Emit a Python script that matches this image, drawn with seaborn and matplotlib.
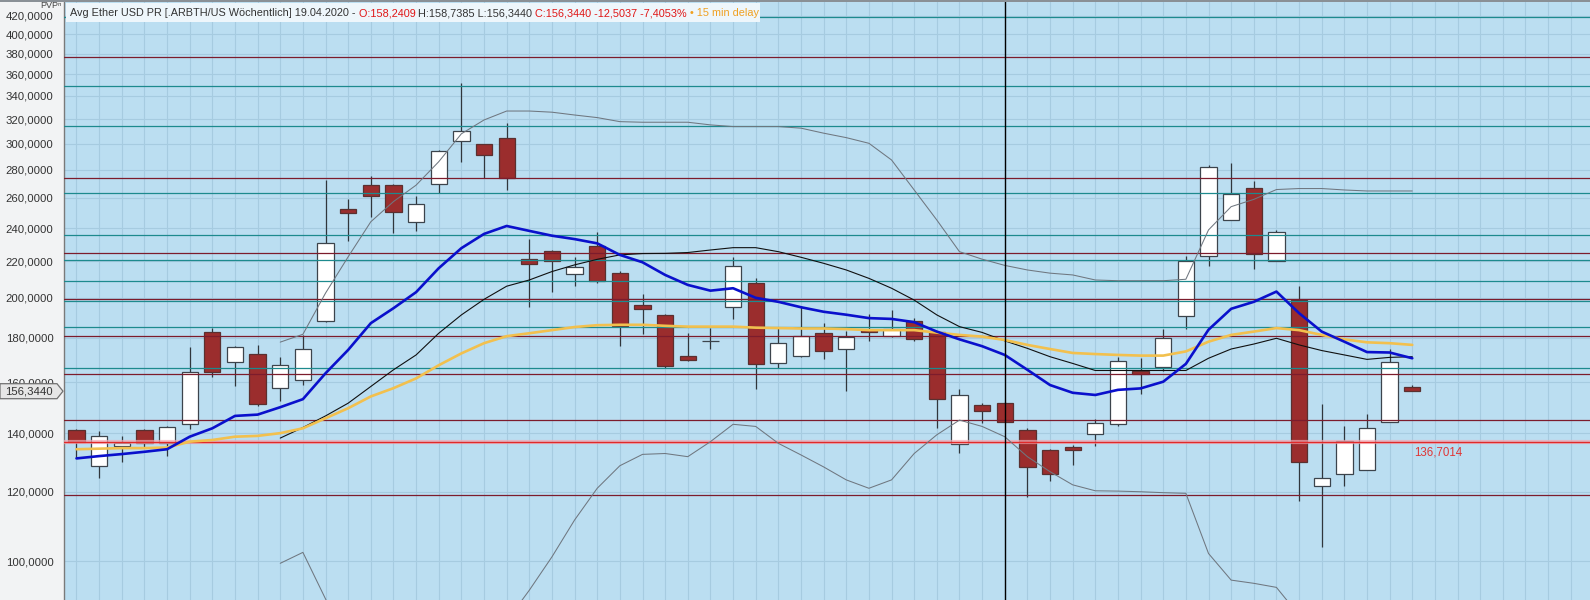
import numpy as np
import pandas as pd
import matplotlib
matplotlib.use("Agg")
import matplotlib.pyplot as plt
import seaborn as sns
from matplotlib.ticker import FixedLocator, FuncFormatter, NullFormatter
from matplotlib.patches import Rectangle, Polygon

# ---------------- data (weekly candles, Avg Ether USD) ----------------
opens = [141.2, 128.4, 135.5, 141.2, 136.6, 143.3, 182.6, 168.7, 172.6, 157.6,
         161.0, 188.0, 252.4, 269.0, 269.0, 244.2, 269.5, 302.0, 299.5, 304.1,
         221.6, 226.2, 212.8, 229.1, 213.4, 196.0, 191.1, 171.7, 178.2, 195.0,
         207.8, 168.3, 171.7, 182.4, 174.5, 183.6, 180.9, 188.2, 182.6, 136.0,
         150.6, 151.5, 141.2, 134.0, 134.9, 139.8, 143.3, 165.0, 166.8, 190.8,
         223.2, 245.1, 266.8, 220.2, 198.7, 121.8, 125.8, 127.1, 144.1, 158.2409]
highs = [141.5, 140.8, 139.0, 141.5, 142.8, 175.5, 184.6, 176.0, 176.5, 171.2,
         181.3, 272.5, 259.5, 275.3, 269.5, 261.3, 295.0, 352.1, 299.5, 317.0,
         233.1, 227.0, 222.3, 237.4, 214.3, 201.9, 191.5, 182.4, 184.6, 222.3,
         210.8, 184.6, 195.6, 187.1, 183.2, 191.4, 193.7, 189.4, 183.0, 157.3,
         151.6, 152.0, 141.8, 134.3, 135.7, 145.2, 170.9, 170.5, 184.1, 223.2,
         283.7, 284.7, 272.0, 239.2, 206.1, 151.3, 142.5, 147.1, 174.6, 158.7385]
lows = [131.0, 124.5, 129.7, 134.5, 131.8, 141.5, 162.2, 158.7, 150.5, 152.5,
        158.9, 187.5, 232.1, 247.5, 236.9, 238.4, 263.4, 286.0, 273.7, 265.5,
        195.3, 203.2, 206.4, 207.8, 176.3, 181.6, 166.4, 169.4, 174.9, 189.0,
        157.1, 166.4, 170.9, 170.0, 156.3, 178.6, 180.5, 178.5, 141.9, 133.0,
        143.9, 144.0, 118.4, 123.5, 128.8, 135.5, 142.5, 155.4, 165.0, 184.2,
        217.2, 245.1, 215.4, 220.0, 117.2, 103.7, 121.9, 127.0, 144.0, 156.3440]
closes = [136.9, 139.1, 136.5, 136.6, 142.2, 164.6, 164.6, 175.5, 151.2, 167.4,
          174.6, 230.9, 250.1, 261.5, 250.8, 255.7, 294.3, 309.9, 291.4, 273.7,
          218.3, 220.0, 216.5, 209.0, 185.7, 194.0, 167.1, 169.6, 178.4, 217.5,
          167.9, 177.7, 180.9, 174.0, 180.2, 182.7, 184.3, 179.2, 153.3, 154.7,
          148.5, 144.3, 128.2, 125.6, 133.8, 143.7, 169.1, 163.4, 179.7, 220.2,
          282.2, 262.7, 224.1, 237.6, 129.7, 124.3, 137.0, 141.8, 168.7, 156.3440]

# moving averages / bands
ma_blue = [131.0, 131.8, 132.5, 133.3, 134.2, 138.7, 141.8, 146.5, 147.0, 149.9,
           153.1, 163.9, 174.3, 187.0, 194.5, 202.9, 216.1, 227.8, 236.5, 241.5,
           238.4, 235.4, 233.3, 230.7, 223.8, 219.5, 212.3, 206.8, 203.7, 205.0,
           199.9, 197.8, 195.0, 192.7, 191.2, 189.5, 189.1, 187.5, 182.9, 179.2,
           176.0, 172.0, 165.4, 158.9, 155.7, 154.8, 156.9, 157.5, 160.3, 168.0,
           183.8, 194.2, 197.8, 203.2, 192.0, 182.9, 178.1, 173.3, 173.1, 170.5]
ma_gold = [134.2, 134.4, 134.6, 134.6, 134.8, 136.9, 137.5, 138.7, 139.0, 140.0,
           141.8, 145.6, 149.5, 154.2, 157.6, 161.7, 167.4, 172.7, 177.4, 180.7,
           182.1, 183.6, 185.1, 186.0, 186.2, 186.2, 185.7, 185.3, 185.3, 185.3,
           184.8, 184.6, 184.4, 184.4, 184.1, 183.6, 183.6, 183.6, 182.4, 181.3,
           180.5, 178.9, 176.6, 174.7, 172.9, 172.4, 172.0, 171.7, 171.7, 173.6,
           178.1, 181.3, 182.9, 184.6, 183.6, 181.3, 179.2, 177.8, 177.4, 176.6]
ma_black = [np.nan] * 9 + [
    138.2, 142.1, 146.5, 151.5, 158.3, 165.4, 172.0, 182.1, 191.1, 199.1,
    206.1, 209.5, 214.2, 218.0, 221.2, 223.8, 224.6, 224.7, 225.2, 226.7,
    228.1, 228.1, 225.7, 222.4, 218.9, 215.1, 210.4, 205.0, 198.7, 191.1,
    185.3, 182.5, 178.5, 175.0, 171.2, 168.2, 165.1, 165.1, 165.1, 165.1,
    165.1, 170.5, 174.7, 177.0, 179.7, 176.6, 174.0, 172.0, 170.0, 170.9, 171.2]
bb_upper = [np.nan] * 9 + [
    177.9, 181.6, 202.4, 222.7, 244.2, 257.5, 268.9, 286.0, 307.8, 319.2,
    326.8, 326.8, 325.8, 323.4, 321.2, 317.8, 317.3, 317.3, 317.3, 315.1,
    313.7, 313.7, 313.7, 312.4, 308.3, 304.7, 300.2, 287.3, 265.5, 245.3,
    225.7, 221.3, 217.7, 215.1, 213.3, 212.3, 209.5, 209.1, 209.1, 209.1,
    209.9, 239.0, 254.1, 259.0, 265.8, 266.5, 266.5, 265.5, 264.8, 264.8, 264.8]
bb_lower = [np.nan] * 9 + [
    99.4, 102.3, 90.5, 80.3, 72.4, 73.3, 75.1, 78.2, 74.4, 79.0,
    85.4, 92.6, 101.1, 111.4, 121.1, 128.5, 132.4, 132.7, 131.6, 136.9,
    143.3, 142.5, 136.3, 132.2, 128.1, 123.8, 121.1, 123.8, 132.7, 139.4,
    144.9, 142.5, 138.7, 131.6, 126.5, 122.2, 120.3, 120.2, 120.0, 119.7,
    119.5, 102.0, 95.1, 94.3, 93.3, 86.7, 81.5, 78.5, 75.2, 77.0, 77.6]

# horizontal levels
levels_teal = [418.5, 349.5, 313.9, 263.2, 235.7, 220.7, 208.8, 198.2, 185.0, 166.0]
levels_red = [376.7, 273.8, 224.7, 199.4, 180.6, 163.4, 144.8, 119.0]
level_marked = 136.7014
last_price = 156.3440
major_ticks = list(range(100, 421, 20))
minor_ticks = [v for v in range(90, 436, 5) if v % 20 != 0]
crosshair_week = 41

header_parts = [
    ("Avg Ether USD PR [.ARBTH/US Wöchentlich] 19.04.2020 -", "#333333"),
    (" O:158,2409", "#e01515"),
    (" H:158,7385 L:156,3440", "#333333"),
    (" C:156,3440 -12,5037 -7,4053%", "#e01515"),
    (" \u2022 15 min delay", "#f0a020"),
]

# ---------------- styling ----------------
sns.set_style("white")
plt.rcParams['font.family'] = ['Liberation Sans', 'DejaVu Sans']

W, H = 1590, 600
fig = plt.figure(figsize=(W / 100, H / 100), dpi=100)
fig.patch.set_facecolor("#f2f3f4")
ax = fig.add_axes([64 / W, 0, 1 - 64 / W, 1])
ax.set_facecolor("#bbdef1")

n = len(opens)
weeks = np.arange(n)
df = pd.DataFrame({
    "week": weeks, "open": opens, "high": highs, "low": lows, "close": closes,
    "ma_blue": ma_blue, "ma_gold": ma_gold, "ma_black": ma_black,
    "bb_upper": bb_upper, "bb_lower": bb_lower,
})

ax.set_yscale("log")
ax.set_ylim(90.25, 437.7)
ax.set_xlim(-0.552, 66.85)

# grid
for gx in range(0, 67):
    ax.axvline(gx, color="#a6cbe0", lw=0.8, zorder=0.5)
for gy in major_ticks:
    ax.axhline(gy, color="#a6cbe0", lw=0.8, zorder=0.5)

# candles
up = df["close"] >= df["open"]
body_lo = np.minimum(df["open"], df["close"])
body_h = np.maximum(np.abs(df["close"] - df["open"]), 0.25)
ax.vlines(df["week"], df["low"], df["high"], color="#30363c", lw=0.9, zorder=1.5)
ax.bar(df["week"], body_h, bottom=body_lo, width=0.72,
       color=np.where(up, "#ffffff", "#9b2d2d"),
       edgecolor=np.where(up, "#3c444c", "#5a3030"), linewidth=0.9, zorder=2)

# horizontal levels (drawn above candles)
for lv in levels_teal:
    ax.axhline(lv, color="#1d8a8e", lw=0.9, zorder=3)
for lv in levels_red:
    ax.axhline(lv, color="#7c1c2c", lw=0.9, zorder=3)
ax.axhline(level_marked, color="#f2a9b4", lw=3.0, alpha=0.7, zorder=3)
ax.axhline(level_marked, color="#e02a2a", lw=1.0, zorder=3.1)

# bands and moving averages
sns.lineplot(data=df, x="week", y="bb_upper", color="#6f7780", lw=0.75, ax=ax, zorder=4)
sns.lineplot(data=df, x="week", y="bb_lower", color="#6f7780", lw=0.75, ax=ax, zorder=4)
sns.lineplot(data=df, x="week", y="ma_black", color="#101010", lw=0.8, ax=ax, zorder=4.5)
sns.lineplot(data=df, x="week", y="ma_gold", color="#f2c04e", lw=1.9, ax=ax, zorder=5)
sns.lineplot(data=df, x="week", y="ma_blue", color="#0a10cc", lw=1.9, ax=ax, zorder=5.5)

ax.axvline(crosshair_week, color="black", lw=1.0, zorder=6)

# axes
ax.set_yscale("log")
ax.set_ylim(90.25, 437.7)
ax.set_xlim(-0.552, 66.85)
ax.set_xlabel("")
ax.set_ylabel("")
ax.yaxis.set_major_locator(FixedLocator(major_ticks))
ax.yaxis.set_minor_locator(FixedLocator(minor_ticks))
ax.yaxis.set_major_formatter(FuncFormatter(lambda v, p: f"{v:.4f}".replace(".", ",")))
ax.yaxis.set_minor_formatter(NullFormatter())
ax.tick_params(axis="y", which="major", length=5, width=0.8, color="#505050",
               labelsize=8.2, labelcolor="#333333", pad=2.5)
ax.tick_params(axis="y", which="minor", length=2.5, width=0.8, color="#505050")
ax.set_xticks([])
for s in ["top", "right", "bottom"]:
    ax.spines[s].set_visible(False)
ax.spines["left"].set_color("#7a7a7a")
ax.spines["left"].set_linewidth(1.0)

fig.canvas.draw()
renderer = fig.canvas.get_renderer()

# label of marked level
xm, ym = ax.transData.transform((0, level_marked))
fig.text(1414 / W, (ym - 10) / H, "136,7014", color="#e03535", fontsize=8.3,
         ha="left", va="center")

# last price box on the axis
_, yp = ax.transData.transform((0, last_price))
poly = Polygon([(0, yp - 7.5), (57, yp - 7.5), (63, yp), (57, yp + 7.5), (0, yp + 7.5)],
               closed=True, transform=None, facecolor="#e6e6e6", edgecolor="#707070",
               lw=0.9, zorder=10)
fig.patches.append(poly)
fig.text(29 / W, yp / H, "156,3440", color="#333333", fontsize=8.2,
         ha="center", va="center", zorder=11)

# top strip and header
fig.patches.append(Rectangle((0, H - 2), W, 2, transform=None, facecolor="#8a9096",
                             edgecolor="none", zorder=12))
fig.patches.append(Rectangle((0, H - 11), 63, 9, transform=None, facecolor="#f2f3f4",
                             edgecolor="none", zorder=9))
fig.text(62 / W, (H - 6) / H, "PVPⁿ", color="#444444", fontsize=6.5,
         ha="right", va="center", zorder=10)
fig.patches.append(Rectangle((66, H - 22), 694, 19, transform=None, facecolor="#eef6fb",
                             edgecolor="none", zorder=9))
x = 70
for s, col in header_parts:
    t = fig.text(x / W, (H - 16) / H, s, color=col, fontsize=7.85, ha="left",
                 va="baseline", zorder=10)
    x = t.get_window_extent(renderer).x1

fig.savefig("out.png", dpi=100, facecolor=fig.get_facecolor())
